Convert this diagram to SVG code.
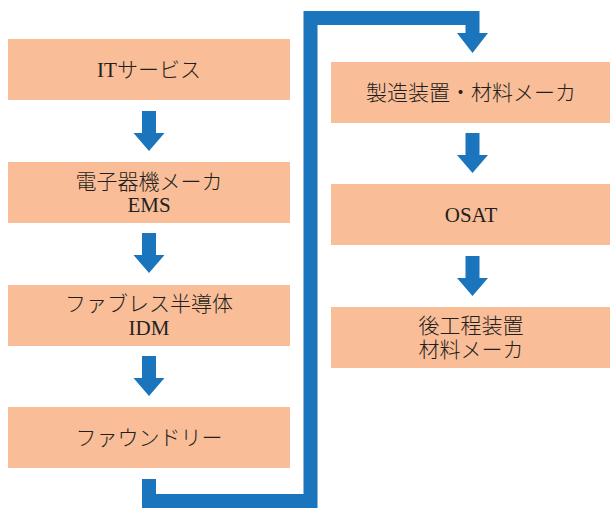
<svg xmlns="http://www.w3.org/2000/svg" width="610" height="508" viewBox="0 0 610 508">
<style>
.box{fill:#F9BD98;}
.t{font-family:"Liberation Serif","Noto Sans CJK JP",serif;font-size:21px;fill:#231F20;text-anchor:middle;}
.j{font-family:"Noto Sans CJK JP",sans-serif;font-weight:300;}
.arr{fill:#1B75BC;}
.conn{fill:none;stroke:#1B75BC;stroke-width:14;stroke-linejoin:miter;}
</style>
<defs>
<path id="darrow" d="M-7,0 H7 V22 H15.5 L0,40 L-15.5,22 H-7 Z"/>
</defs>
<g id="n1"><rect class="box" x="8" y="39" width="282" height="61"/><text class="t" x="149" y="77">IT<tspan class="j">サービス</tspan></text></g>
<g id="n2"><rect class="box" x="8" y="162" width="282" height="61"/><text class="t j" x="149" y="188.5">電子器機メーカ</text><text class="t" x="149" y="212">EMS</text></g>
<g id="n3"><rect class="box" x="8" y="285" width="282" height="61"/><text class="t j" x="149" y="311">ファブレス半導体</text><text class="t" x="149" y="335">IDM</text></g>
<g id="n4"><rect class="box" x="8" y="407" width="282" height="61"/><text class="t j" x="149" y="445">ファウンドリー</text></g>
<g id="n5"><rect class="box" x="331" y="62" width="279" height="61"/><text class="t j" x="471" y="100">製造装置・材料メーカ</text></g>
<g id="n6"><rect class="box" x="331" y="184" width="279" height="61"/><text class="t" x="471" y="222">OSAT</text></g>
<g id="n7"><rect class="box" x="331" y="307" width="279" height="61"/><text class="t j" x="471" y="333">後工程装置</text><text class="t j" x="471" y="357">材料メーカ</text></g>
<g id="connectors">
<use href="#darrow" class="arr" transform="translate(149,111)"/>
<use href="#darrow" class="arr" transform="translate(149,233)"/>
<use href="#darrow" class="arr" transform="translate(149,356)"/>
<use href="#darrow" class="arr" transform="translate(472.5,133)"/>
<use href="#darrow" class="arr" transform="translate(472.5,256)"/>
<path class="conn" d="M149,479 V501 H310.5 V18 H472.5 V34"/>
<path class="arr" d="M457,33 H488 L472.5,53 Z"/>
</g>
</svg>
